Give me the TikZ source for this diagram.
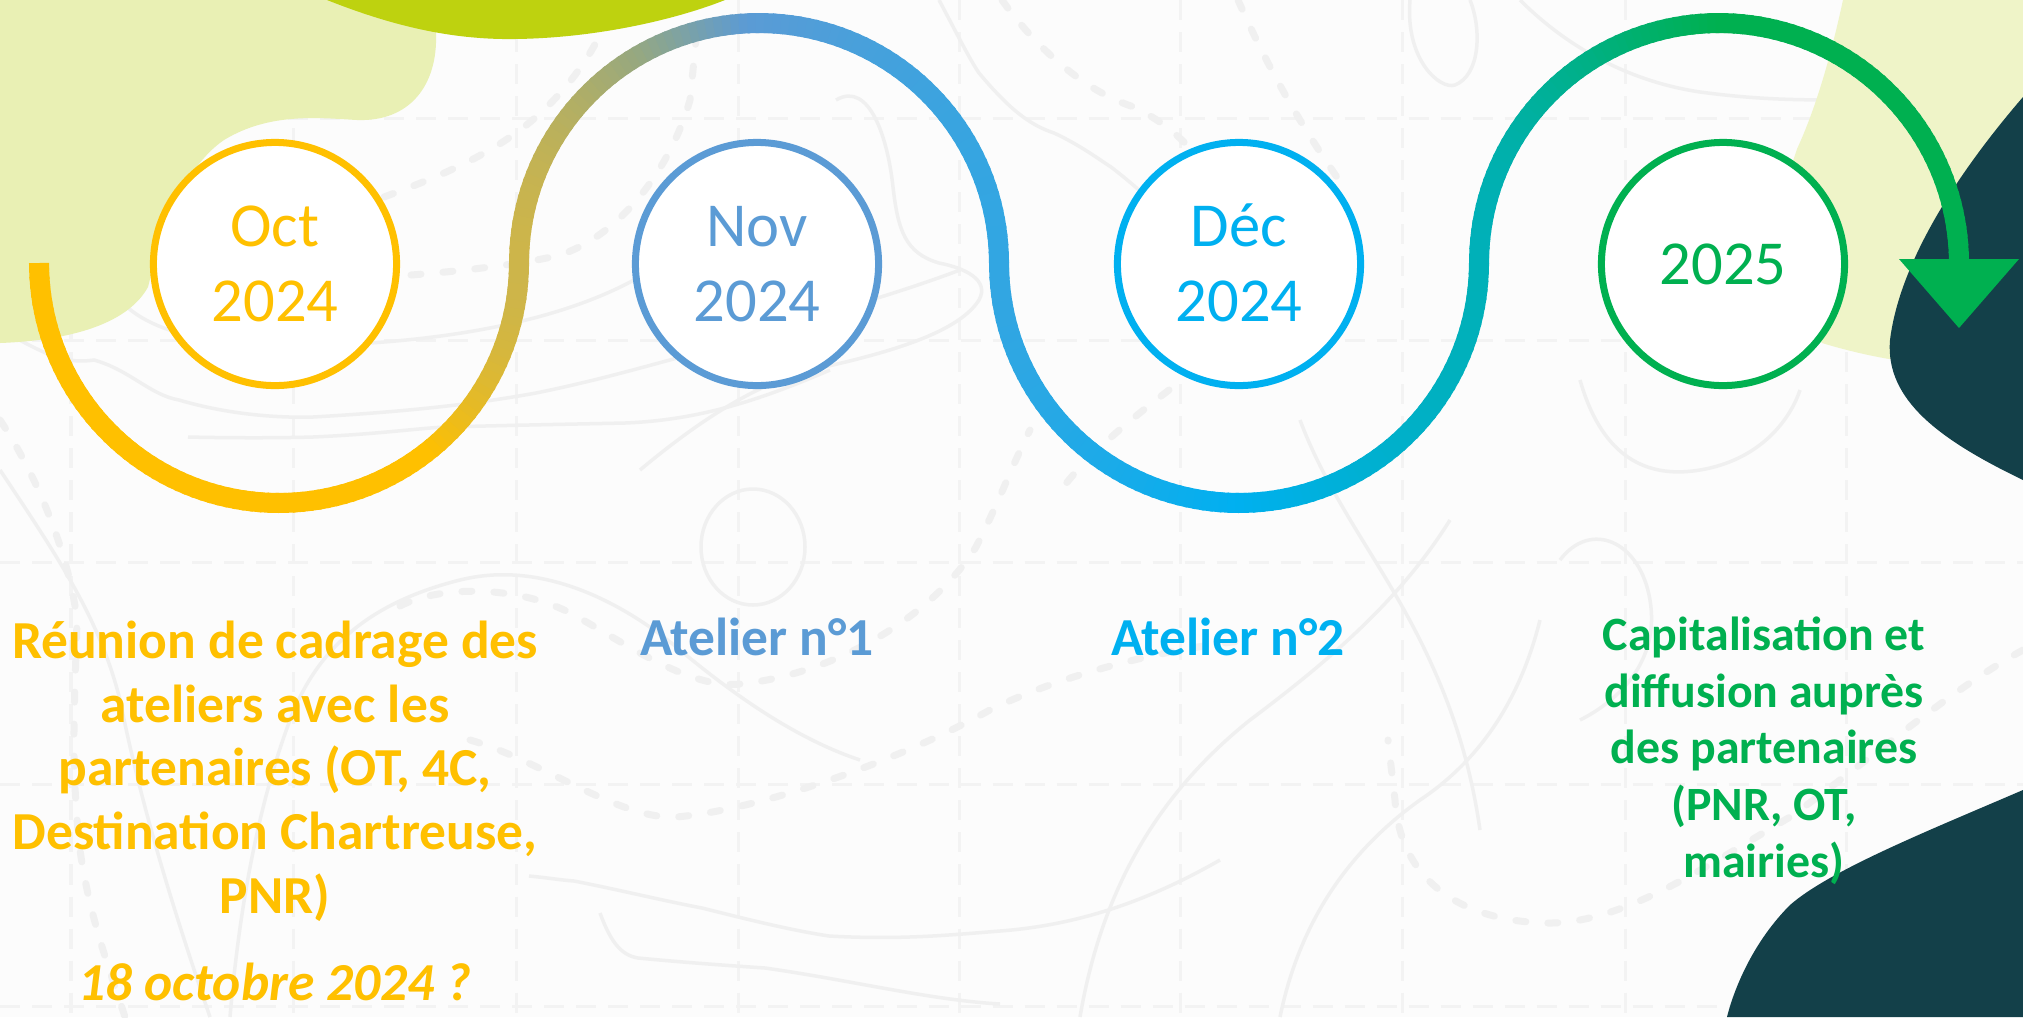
\documentclass[tikz,border=0pt]{standalone}
\usepackage{fontspec}
\setmainfont{Carlito}
\definecolor{cOct}{HTML}{FFC000}
\definecolor{cNov}{HTML}{5B9BD5}
\definecolor{cDec}{HTML}{00B0F0}
\definecolor{cYear}{HTML}{00B050}
\definecolor{blobLight}{HTML}{E9F0B4}
\definecolor{blobLime}{HTML}{BED20F}
\definecolor{blobRight}{HTML}{EFF4C8}
\definecolor{blobDark}{HTML}{134049}
\definecolor{bgc}{HTML}{FCFCFC}
\definecolor{topoc}{HTML}{F0F0F0}
\definecolor{gridc}{HTML}{F3F3F3}
\begin{document}
\begin{tikzpicture}[x=0.01cm,y=-0.01cm,
  declare function={cl(\t)=min(max(\t,0),1);},
  topo/.style={draw=topoc, line width=0.035cm},
  topodash/.style={draw=topoc, line width=0.07cm, line cap=round, dash pattern=on 0.1cm off 0.22cm},
  gridl/.style={draw=gridc, line width=0.03cm, dash pattern=on 0.2cm off 0.12cm},
  datecirc/.style={circle, draw, fill=white, line width=0.07cm, minimum size=2.43cm, inner sep=0pt, align=center, font=\fontsize{17.8}{21.3}\selectfont},
  seg/.style={line width=0.2cm, line cap=butt},
  lab/.style={align=center, inner sep=0pt, font=\fontsize{15.2}{18.1}\selectfont\bfseries},
  labsmall/.style={align=center, inner sep=0pt, font=\fontsize{13.6}{16.1}\selectfont\bfseries},
]
\useasboundingbox (0,0) rectangle (2023,1017);
\fill[bgc] (0,0) rectangle (2023,1017);

% background grid
\foreach \gy in {118,340,562,784,1006} \draw[gridl] (0,\gy) -- (2023,\gy);
\foreach \gx in {71,293,516,738,959,1180,1402,1625,1846} \draw[gridl] (\gx,0) -- (\gx,1017);

% contour lines
\draw[topo] (120,300) .. controls (160,345) and (260,350) .. (370,343) .. controls (460,337) and (560,320) .. (634,280) .. controls (700,250) and (760,200) .. (800,150);
\draw[topo] (0,330) .. controls (40,350) and (60,365) .. (94,360) .. controls (130,370) and (150,395) .. (179,400) .. controls (230,415) and (280,418) .. (313,417) .. controls (400,412) and (470,405) .. (536,393) .. controls (600,380) and (650,365) .. (696,353) .. controls (800,320) and (880,300) .. (960,270);
\draw[topo] (188,437) .. controls (230,438) and (280,438) .. (313,437) .. controls (380,434) and (420,428) .. (446,427) .. controls (520,425) and (580,424) .. (625,423) .. controls (700,420) and (760,400) .. (830,370);
\draw[topo] (753,547) ellipse [x radius=52, y radius=58];
\draw[topo] (1410,0) .. controls (1405,60) and (1440,90) .. (1455,85) .. controls (1480,75) and (1482,30) .. (1470,0);
\draw[topo] (1520,0) .. controls (1560,40) and (1620,80) .. (1700,92) .. controls (1760,100) and (1800,100) .. (1850,100);
\draw[topo] (836,100) .. controls (870,80) and (888,140) .. (893,187) .. controls (898,230) and (905,253) .. (939,263) .. controls (965,268) and (990,280) .. (979,300) .. controls (960,330) and (900,350) .. (824,367) .. controls (760,380) and (700,420) .. (640,470);
\draw[topo] (939,0) .. controls (955,30) and (970,60) .. (979,73) .. controls (1010,110) and (1030,125) .. (1054,133) .. controls (1080,145) and (1100,160) .. (1111,167) .. controls (1180,220) and (1200,260) .. (1220,300);
\draw[topo] (0,470) .. controls (60,560) and (100,620) .. (120,700) .. controls (140,800) and (170,900) .. (210,1017);
\draw[topo] (230,1017) .. controls (240,900) and (260,800) .. (290,720) .. controls (320,640) and (380,600) .. (460,580) .. controls (540,560) and (620,600) .. (680,650) .. controls (740,700) and (800,740) .. (860,760);
\draw[topo] (529,876) .. controls (550,878) and (560,880) .. (574,881) .. controls (620,890) and (660,900) .. (702,908) .. controls (750,920) and (790,930) .. (829,936) .. controls (900,940) and (950,935) .. (1000,931) .. controls (1080,925) and (1150,900) .. (1220,860);
\draw[topo] (600,913) .. controls (610,940) and (620,955) .. (638,958) .. controls (680,962) and (720,965) .. (765,968) .. controls (850,980) and (930,1000) .. (1000,1004);
\draw[topo] (1080,1017) .. controls (1100,900) and (1150,800) .. (1250,720) .. controls (1330,660) and (1400,600) .. (1450,520);
\draw[topo] (1280,1017) .. controls (1300,920) and (1350,850) .. (1420,800) .. controls (1480,760) and (1520,700) .. (1540,620);
\draw[topo] (1300,420) .. controls (1330,500) and (1380,560) .. (1420,640) .. controls (1450,700) and (1470,760) .. (1480,830);
\draw[topo] (1580,380) .. controls (1600,450) and (1640,480) .. (1700,470) .. controls (1760,460) and (1790,420) .. (1800,390);
\draw[topo] (1560,560) .. controls (1590,520) and (1640,540) .. (1650,600) .. controls (1660,660) and (1620,700) .. (1580,720);

% dashed contour lines
\draw[topodash] (0,420) .. controls (40,480) and (70,560) .. (77,620) .. controls (75,700) and (70,760) .. (80,850) .. controls (90,920) and (110,970) .. (125,1017);
\draw[topodash] (400,606) .. controls (440,585) and (520,585) .. (574,615) .. controls (620,640) and (690,690) .. (740,684) .. controls (830,675) and (930,620) .. (976,547) .. controls (1000,500) and (1010,470) .. (1030,430);
\draw[topodash] (470,740) .. controls (540,760) and (620,820) .. (676,817) .. controls (760,810) and (900,760) .. (988,711) .. controls (1050,680) and (1150,650) .. (1250,640);
\draw[topodash] (384,197) .. controls (430,180) and (480,160) .. (520,130) .. controls (560,100) and (590,60) .. (607,20);
\draw[topodash] (411,275) .. controls (450,272) and (520,265) .. (560,255) .. controls (620,235) and (670,170) .. (690,100) -- (696,40);
\draw[topodash] (1002,0) .. controls (1030,40) and (1080,90) .. (1134,107) .. controls (1160,120) and (1180,135) .. (1200,160);
\draw[topodash] (1238,0) .. controls (1260,50) and (1290,110) .. (1341,183);
\draw[topodash] (1169,390) .. controls (1130,420) and (1080,460) .. (1054,500);
\draw[topodash] (2023,650) .. controls (1950,690) and (1870,760) .. (1790,817) .. controls (1700,870) and (1620,925) .. (1544,923) .. controls (1460,920) and (1400,880) .. (1395,800) -- (1388,740);

% background blobs
\fill[blobLight] (0,0) -- (436,0) -- (436,33) .. controls (438,85) and (410,122) .. (357,120) .. controls (320,118) and (270,112) .. (224,140) .. controls (180,170) and (160,240) .. (148,287) .. controls (130,320) and (80,340) .. (0,343) -- cycle;
\fill[blobLime] (327,0) .. controls (390,25) and (450,40) .. (515,39) .. controls (600,38) and (680,18) .. (725,0) -- cycle;
\fill[blobRight] (1843,0) .. controls (1830,60) and (1815,110) .. (1797,149) -- (1760,260) -- (1822,343) .. controls (1845,350) and (1870,356) .. (1895,360) -- (2023,360) -- (2023,0) -- cycle;
\fill[blobDark] (2023,97) .. controls (1960,170) and (1900,260) .. (1890,340) .. controls (1885,400) and (1940,440) .. (2023,480) -- cycle;
\fill[blobDark] (2023,790) .. controls (1930,830) and (1830,870) .. (1790,905) .. controls (1755,940) and (1735,985) .. (1727,1017) -- (2023,1017) -- cycle;

% gradient timeline path
\foreach \k in {0,1,2,3}{
  \pgfmathsetmacro\cx{279+480*\k}
  \pgfmathsetmacro\sg{(mod(\k,2)==0) ? 1 : -1}
  \foreach \s in {0,2,...,178}{
    \pgfmathsetmacro\sa{(\k==0 && \s==0) ? 0 : \s-0.8}
    \pgfmathsetmacro\sb{\s+2}
    \pgfmathsetmacro\xa{\cx-240*cos(\sa)}
    \pgfmathsetmacro\ya{263+(\sg)*240*sin(\sa)}
    \pgfmathsetmacro\xb{\cx-240*cos(\sb)}
    \pgfmathsetmacro\yb{263+(\sg)*240*sin(\sb)}
    \pgfmathsetmacro\xm{\cx-240*cos(\s+1)}
    \pgfmathsetmacro\R{max(0,255-50*cl((\xm-430)/89)-55*cl((\xm-519)/121)-59*cl((\xm-640)/110)-41*cl((\xm-750)/250)-50*cl((\xm-1000)/240))/255}
    \pgfmathsetmacro\G{min(255,192-11*cl((\xm-430)/89)-13*cl((\xm-519)/121)-13*cl((\xm-640)/110)+11*cl((\xm-750)/250)+10*cl((\xm-1000)/240))/255}
    \pgfmathsetmacro\B{max(0,74*cl((\xm-430)/89)+54*cl((\xm-519)/121)+85*cl((\xm-640)/110)+13*cl((\xm-750)/250)+14*cl((\xm-1000)/240)-56*cl((\xm-1240)/240)-74*cl((\xm-1480)/160)-30*cl((\xm-1640)/81))/255}
    \definecolor{segc}{rgb}{\R,\G,\B}
    \draw[seg, draw=segc] (\xa,\ya) -- (\xb,\yb);
  }
}
\coordinate (tipbase) at (1959,259);
\fill[cYear] (1899,259) -- (2019,259) -- (1959,328) -- cycle;

% date circles
\node[datecirc, draw=cOct, text=cOct] (oct) at (275,264) {Oct\\2024};
\node[datecirc, draw=cNov, text=cNov] (nov) at (757,264) {Nov\\2024};
\node[datecirc, draw=cDec, text=cDec] (dec) at (1239,264) {D\smash{é}c\\2024};
\node[datecirc, draw=cYear, text=cYear] (y25) at (1723,264) {2025};

% labels (base anchor = baseline of the last line)
\node[lab, text=cOct, anchor=base] (reunion) at (275,913) {Réunion de cadrage des\\ateliers avec les\\partenaires (OT, 4C,\\Destination Chartreuse,\\PNR)};
\node[lab, text=cOct, anchor=base, font=\fontsize{15.2}{18.1}\selectfont\bfseries\itshape] (date) at (275,1000) {18 octobre 2024 ?};
\node[lab, text=cNov, anchor=base] (at1) at (757,655) {Atelier n°1};
\node[lab, text=cDec, anchor=base] (at2) at (1228,655) {Atelier n°2};
\node[labsmall, text=cYear, anchor=base] (capi) at (1764,877) {Capitalisation et\\diffusion auprès\\des partenaires\\(PNR, OT,\\mairies)};
\end{tikzpicture}
\end{document}
